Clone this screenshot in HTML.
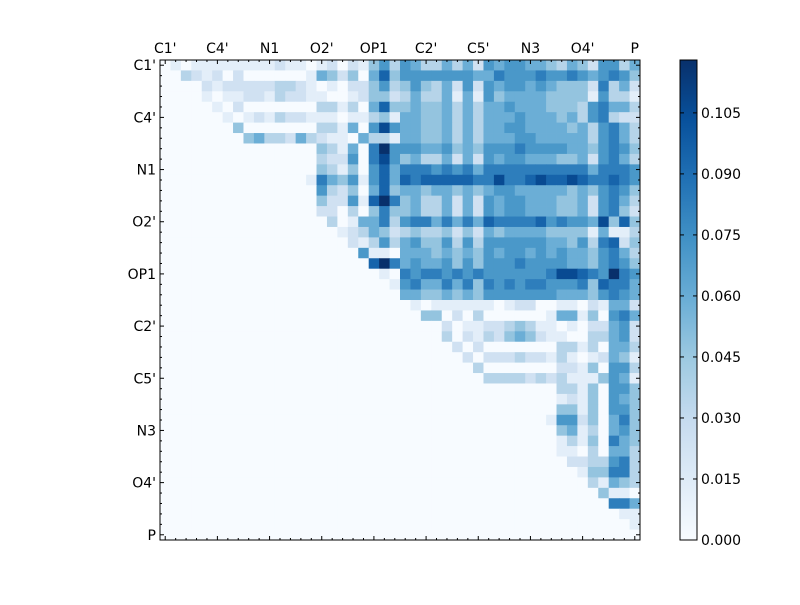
<!DOCTYPE html>
<html><head><meta charset="utf-8"><style>
html,body{margin:0;padding:0;background:#fff;}
svg text{font-family:"DejaVu Sans","Liberation Sans",sans-serif;font-size:14px;fill:#000;}
</style></head><body>
<svg id="chart" width="800" height="600" xmlns="http://www.w3.org/2000/svg">
<rect width="800" height="600" fill="#fff"/>
<g id="cells"></g>
<g id="axes"></g>
<defs><linearGradient id="cbg" x1="0" y1="1" x2="0" y2="0"><stop offset="0" stop-color="#f7fbff"/><stop offset="0.125" stop-color="#deebf7"/><stop offset="0.25" stop-color="#c6dbef"/><stop offset="0.375" stop-color="#9ecae1"/><stop offset="0.5" stop-color="#6baed6"/><stop offset="0.625" stop-color="#4292c6"/><stop offset="0.75" stop-color="#2171b5"/><stop offset="0.875" stop-color="#08519c"/><stop offset="1" stop-color="#08306b"/></linearGradient></defs>
<g id="cbar"></g>
</svg>
<script>
const atomLabels = ["C1'","C4'","N1","O2'","OP1","C2'","C5'","N3","O4'","P"];
const colorbarTicks = [0.000,0.015,0.030,0.045,0.060,0.075,0.090,0.105];
const levelStep = 0.0118;
const vMax = 0.118;
const rowLevels = [
"0101111111121101202146365335352656655435426635",
"0032120200000015424058466666665576667667656764",
"0000212222233210102246346435262656656544427352",
"0000101122132211001244235335151645555444416331",
"0000010200000003313058445445353556555444367553",
"0000001012132211101134155445353555655545367322",
"0000000400000003315069655445353556655554536753",
"0000000045332532110533155445353555665555536753",
"000000000000000431507a666556454666766665546764",
"0000000000000003226079645335252656655544526753",
"0000000000000004314068577767675777777777757776",
"0000000000000017546168587888887797789889877876",
"0000000000000006324058455455454566555554546764",
"000000000000000422618a745335252656655544526753",
"0000000000000002203047445335252656655544526742",
"0000000000000000301557367757575877778676659484",
"0000000000000000012354234334242545555444415113",
"0000000000000000002136356446363666666554637824",
"0000000000000000000611055545454656656565546753",
"000000000000000000008a756556464666766665546764",
"0000000000000000000001076776767666666799876a76",
"0000000000000000000000167557574767677666748775",
"0000000000000000000000055445454666666655546765",
"0000000000000000000000001011111101220011021552",
"0000000000000000000000000440203000000155140675",
"0000000000000000000000000002011223431101022562",
"0000000000000000000000000003021324542110033562",
"0000000000000000000000000000202000000033130553",
"0000000000000000000000000000020222322131012541",
"0000000000000000000000000000003000000022140663",
"0000000000000000000000000000000333323231114651",
"0000000000000000000000000000000000000033140664",
"0000000000000000000000000000000000000012140654",
"0000000000000000000000000000000000000044140664",
"0000000000000000000000000000000000000166240574",
"0000000000000000000000000000000000000045130564",
"0000000000000000000000000000000000000013140754",
"0000000000000000000000000000000000000011030553",
"0000000000000000000000000000000000000002233673",
"0000000000000000000000000000000000000000144773",
"0000000000000000000000000000000000000000031543",
"0000000000000000000000000000000000000000004110",
"0000000000000000000000000000000000000000000775",
"0000000000000000000000000000000000000000000011",
"0000000000000000000000000000000000000000000001",
"0000000000000000000000000000000000000000000000"
];
const NS="http://www.w3.org/2000/svg";
const X0=160,Y0=60,W=480,H=480;
const N=rowLevels.length;
const cw=W/N;
const xPos=c=>X0+c*cw, yPos=r=>Y0+r*cw;
const stops=[[0,[247,251,255]],[.125,[222,235,247]],[.25,[198,219,239]],[.375,[158,202,225]],[.5,[107,174,214]],[.625,[66,146,198]],[.75,[33,113,181]],[.875,[8,81,156]],[1,[8,48,107]]];
function cmap(v){let t=Math.max(0,Math.min(1,v/vMax));for(let i=1;i<stops.length;i++){if(t<=stops[i][0]){const a=stops[i-1],b=stops[i];const f=(t-a[0])/(b[0]-a[0]);return 'rgb('+a[1].map((x,k)=>Math.round(x+(b[1][k]-x)*f)).join(',')+')';}}return 'rgb(8,48,107)';}
function mk(tag,attrs,parent){const e=document.createElementNS(NS,tag);for(const k in attrs)e.setAttribute(k,attrs[k]);parent.appendChild(e);return e;}
const cells=document.getElementById('cells');
rowLevels.forEach((row,r)=>{for(let c=0;c<row.length;c++){const v=parseInt(row[c],16)*levelStep;
const e=mk('rect',{x:xPos(c).toFixed(2),y:yPos(r).toFixed(2),width:(cw+0.4).toFixed(2),height:(cw+0.4).toFixed(2),fill:cmap(v)},cells);

}});
const ax=document.getElementById('axes');
const fr=mk('rect',{x:X0,y:Y0,width:W,height:H,fill:'none',stroke:'#000','stroke-width':1},ax);


for(let i=0;i<N;i++){const p=xPos(i+0.5);const L=(i%5===0)?4:2;
mk('line',{x1:p,y1:Y0,x2:p,y2:Y0+L,stroke:'#000'},ax);
mk('line',{x1:p,y1:Y0+H,x2:p,y2:Y0+H-L,stroke:'#000'},ax);
const q=yPos(i+0.5);
mk('line',{x1:X0,y1:q,x2:X0+L,y2:q,stroke:'#000'},ax);
mk('line',{x1:X0+W,y1:q,x2:X0+W-L,y2:q,stroke:'#000'},ax);}
atomLabels.forEach((lab,k)=>{const i=k*5;
const t=mk('text',{x:xPos(i+0.5),y:Y0-7,'text-anchor':'middle'},ax);t.textContent=lab;


const s=mk('text',{x:X0-4,y:yPos(i+0.5)+5,'text-anchor':'end'},ax);s.textContent=lab;

});
const cb=document.getElementById('cbar');
const CX=680,CW=17;
const cbY=v=>Y0+H-v/vMax*H;
const g=mk('rect',{x:CX,y:Y0,width:CW,height:H,fill:'url(#cbg)',stroke:'#000','stroke-width':1},cb);


colorbarTicks.forEach(v=>{const y=cbY(v);
mk('line',{x1:CX+CW,y1:y,x2:CX+CW-4,y2:y,stroke:'#000'},cb);
mk('line',{x1:CX,y1:y,x2:CX+4,y2:y,stroke:'#000'},cb);
const t=mk('text',{x:CX+CW+4,y:y+5},cb);t.textContent=v.toFixed(3);

});
</script>
</body></html>
